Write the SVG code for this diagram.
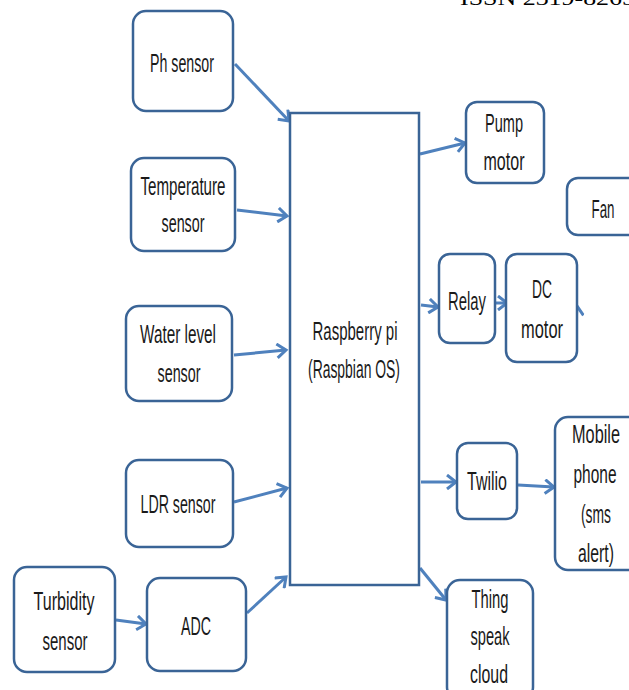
<svg xmlns="http://www.w3.org/2000/svg" width="629" height="690" viewBox="0 0 629 690">
<style>
.box{fill:#fff;stroke:#3a6496;stroke-width:2.5}
.t{font-family:"Liberation Sans",Arial,sans-serif;font-size:25px;fill:#1a1a1a;text-anchor:middle}
.c{fill:none;stroke:#4f81bd;stroke-width:3;marker-end:url(#ah)}
.h{font-family:"Liberation Serif","Times New Roman",serif;font-size:22px;fill:#000}
</style>
<defs>
<marker id="ah" markerUnits="userSpaceOnUse" markerWidth="14" markerHeight="16" refX="11" refY="8" orient="auto">
<path d="M2,1 L11,8 L2,15" fill="none" stroke="#4f81bd" stroke-width="3"/>
</marker>
</defs>
<rect width="629" height="690" fill="#fff"/>
<text class="h" x="460" y="5" textLength="175" lengthAdjust="spacingAndGlyphs">ISSN 2319-8265</text>

<g id="connectors">
<path class="c" d="M235,64 L289,121"/>
<path class="c" d="M237,210 L287,216"/>
<path class="c" d="M234,355 L286,350"/>
<path class="c" d="M234,502 L287,488"/>
<path class="c" d="M247,613 L286,577"/>
<path class="c" d="M116,620 L146,624"/>
<path class="c" d="M420,154 L465,143"/>
<path class="c" d="M421,305 L438,307"/>
<path class="c" d="M496,303 L507,303"/>
<path class="c" d="M576,322 L577,306"/>
<path class="c" d="M421,482 L456,482"/>
<path class="c" d="M518,485 L554,487"/>
<path class="c" d="M420,568 L446,600"/>
</g>

<g id="raspberry">
<rect x="290" y="113" width="129" height="472" fill="#fff" stroke="#3a6496" stroke-width="2.5"/>
<text class="t" x="355" y="340" textLength="85" lengthAdjust="spacingAndGlyphs">Raspberry pi</text>
<text class="t" x="354" y="378" textLength="92" lengthAdjust="spacingAndGlyphs">(Raspbian OS)</text>
</g>

<g id="ph">
<rect class="box" x="133" y="11" width="100" height="100" rx="13"/>
<text class="t" x="182" y="72" textLength="64" lengthAdjust="spacingAndGlyphs">Ph sensor</text>
</g>
<g id="temp">
<rect class="box" x="131" y="158" width="104" height="93" rx="13"/>
<text class="t" x="183" y="195" textLength="85" lengthAdjust="spacingAndGlyphs">Temperature</text>
<text class="t" x="183" y="232" textLength="43" lengthAdjust="spacingAndGlyphs">sensor</text>
</g>
<g id="water">
<rect class="box" x="126" y="306" width="106" height="95" rx="13"/>
<text class="t" x="178" y="343" textLength="76" lengthAdjust="spacingAndGlyphs">Water level</text>
<text class="t" x="179" y="382" textLength="43" lengthAdjust="spacingAndGlyphs">sensor</text>
</g>
<g id="ldr">
<rect class="box" x="126" y="460" width="107" height="87" rx="13"/>
<text class="t" x="178" y="513" textLength="75" lengthAdjust="spacingAndGlyphs">LDR sensor</text>
</g>
<g id="turbidity">
<rect class="box" x="14" y="567" width="101" height="105" rx="13"/>
<text class="t" x="64" y="610" textLength="61" lengthAdjust="spacingAndGlyphs">Turbidity</text>
<text class="t" x="65" y="650" textLength="45" lengthAdjust="spacingAndGlyphs">sensor</text>
</g>
<g id="adc">
<rect class="box" x="147" y="578" width="99" height="93" rx="13"/>
<text class="t" x="196" y="635" textLength="30" lengthAdjust="spacingAndGlyphs">ADC</text>
</g>
<g id="pump">
<rect class="box" x="466" y="102" width="78" height="81" rx="11"/>
<text class="t" x="504" y="132" textLength="38" lengthAdjust="spacingAndGlyphs">Pump</text>
<text class="t" x="504" y="170" textLength="41" lengthAdjust="spacingAndGlyphs">motor</text>
</g>
<g id="fan">
<rect class="box" x="567" y="178" width="80" height="57" rx="11"/>
<text class="t" x="603" y="218" textLength="23" lengthAdjust="spacingAndGlyphs">Fan</text>
</g>
<g id="relay">
<rect class="box" x="439" y="254" width="56" height="89" rx="11"/>
<text class="t" x="467" y="310" textLength="38" lengthAdjust="spacingAndGlyphs">Relay</text>
</g>
<g id="dc">
<rect class="box" x="506" y="254" width="71" height="108" rx="11"/>
<text class="t" x="542" y="298" textLength="20" lengthAdjust="spacingAndGlyphs">DC</text>
<text class="t" x="542" y="338" textLength="42" lengthAdjust="spacingAndGlyphs">motor</text>
</g>
<g id="twilio">
<rect class="box" x="457" y="443" width="60" height="76" rx="11"/>
<text class="t" x="487" y="490" textLength="40" lengthAdjust="spacingAndGlyphs">Twilio</text>
</g>
<g id="mobile">
<rect class="box" x="555" y="417" width="90" height="153" rx="13"/>
<text class="t" x="596" y="443" textLength="48" lengthAdjust="spacingAndGlyphs">Mobile</text>
<text class="t" x="595" y="483" textLength="43" lengthAdjust="spacingAndGlyphs">phone</text>
<text class="t" x="596" y="523" textLength="30" lengthAdjust="spacingAndGlyphs">(sms</text>
<text class="t" x="596" y="562" textLength="36" lengthAdjust="spacingAndGlyphs">alert)</text>
</g>
<g id="thingspeak">
<rect class="box" x="447" y="580" width="86" height="120" rx="13"/>
<text class="t" x="490" y="608" textLength="37" lengthAdjust="spacingAndGlyphs">Thing</text>
<text class="t" x="490" y="645" textLength="39" lengthAdjust="spacingAndGlyphs">speak</text>
<text class="t" x="489" y="683" textLength="38" lengthAdjust="spacingAndGlyphs">cloud</text>
</g>
</svg>
